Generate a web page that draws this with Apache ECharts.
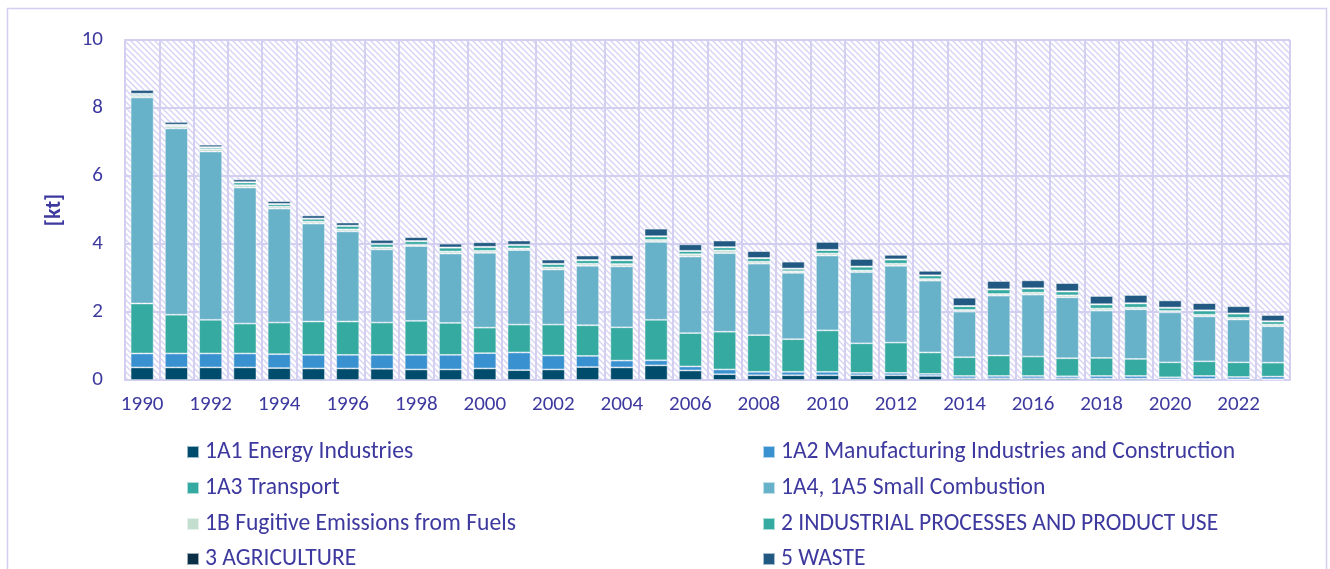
<!DOCTYPE html>
<html><head><meta charset="utf-8">
<script src="https://cdn.jsdelivr.net/npm/echarts@6/dist/echarts.min.js"></script>
<style>html,body{margin:0;padding:0;background:#fff}#c{width:1330px;height:569px}</style>
</head><body><div id="c"></div>
<script>
const years = ['1990','1991','1992','1993','1994','1995','1996','1997','1998','1999','2000','2001','2002','2003','2004','2005','2006','2007','2008','2009','2010','2011','2012','2013','2014','2015','2016','2017','2018','2019','2020','2021','2022','2023'];
const energy      = [0.37,0.37,0.37,0.37,0.35,0.34,0.34,0.33,0.31,0.31,0.34,0.29,0.31,0.38,0.37,0.43,0.28,0.17,0.14,0.14,0.14,0.14,0.14,0.12,0.05,0.05,0.05,0.05,0.04,0.04,0.02,0.03,0.02,0.02];
const manuf       = [0.41,0.41,0.41,0.41,0.41,0.40,0.40,0.41,0.43,0.43,0.45,0.52,0.41,0.33,0.20,0.15,0.12,0.14,0.10,0.10,0.10,0.07,0.07,0.06,0.07,0.07,0.07,0.06,0.08,0.08,0.06,0.09,0.07,0.08];
const transport   = [1.47,1.14,0.99,0.88,0.93,0.98,0.98,0.95,1.00,0.94,0.75,0.82,0.91,0.90,0.98,1.19,0.98,1.11,1.08,0.96,1.22,0.87,0.89,0.63,0.55,0.60,0.57,0.53,0.53,0.50,0.44,0.43,0.43,0.41];
const smallComb   = [6.06,5.48,4.95,4.00,3.35,2.88,2.65,2.15,2.20,2.04,2.20,2.19,1.62,1.75,1.79,2.29,2.25,2.31,2.10,1.95,2.20,2.09,2.26,2.11,1.34,1.76,1.82,1.79,1.39,1.46,1.47,1.32,1.26,1.07];
const fugitive    = [0.05,0.07,0.07,0.07,0.06,0.06,0.06,0.06,0.04,0.06,0.06,0.05,0.06,0.06,0.07,0.06,0.07,0.08,0.06,0.05,0.06,0.05,0.06,0.05,0.05,0.05,0.06,0.06,0.06,0.05,0.04,0.05,0.05,0.05];
const ippu        = [0.05,0.03,0.05,0.08,0.07,0.08,0.10,0.10,0.10,0.11,0.11,0.10,0.10,0.10,0.11,0.10,0.09,0.09,0.10,0.07,0.10,0.11,0.12,0.10,0.11,0.13,0.12,0.11,0.12,0.12,0.09,0.12,0.12,0.09];
const agriculture = [0.01,0.01,0.01,0.01,0.01,0.01,0.01,0.01,0.01,0.01,0.01,0.01,0.01,0.01,0.01,0.01,0.01,0.01,0.01,0.01,0.01,0.01,0.01,0.01,0.01,0.01,0.01,0.01,0.01,0.01,0.01,0.01,0.01,0.01];
const waste       = [0.11,0.08,0.07,0.08,0.08,0.09,0.09,0.11,0.11,0.11,0.13,0.12,0.12,0.13,0.14,0.22,0.19,0.19,0.20,0.20,0.23,0.22,0.13,0.13,0.24,0.24,0.23,0.24,0.24,0.24,0.21,0.21,0.21,0.18];
const yTicks = [0,2,4,6,8,10];

const names = ['1A1 Energy Industries','1A2 Manufacturing Industries and Construction','1A3 Transport','1A4, 1A5 Small Combustion','1B Fugitive Emissions from Fuels','2 INDUSTRIAL PROCESSES AND PRODUCT USE','3 AGRICULTURE','5 WASTE'];
const colors = ['#004c6d','#3a91cf','#35aaa0','#67b1c9','#c3ddcf','#35aaa0','#0b2f47','#215982'];
const values = [energy,manuf,transport,smallComb,fugitive,ippu,agriculture,waste];

// hatch pattern
const pc = document.createElement('canvas');
pc.width = 6; pc.height = 6;
const g = pc.getContext('2d');
g.fillStyle = '#ffffff'; g.fillRect(0,0,6,6);
g.strokeStyle = '#d8d4f4'; g.lineWidth = 1.5;
g.beginPath(); g.moveTo(-1,-1); g.lineTo(7,7); g.moveTo(-1,5); g.lineTo(1,7); g.moveTo(5,-1); g.lineTo(7,1); g.stroke();

const txt = '#3d399f';
const font = 'Carlito, Lato, sans-serif';
const rowsY = [449,485,521,556];
const legends = names.map((n,i)=>({
  data:[n], left: (i%2===0)?181:757, top: rowsY[Math.floor(i/2)]-14,
  itemWidth:12,itemHeight:12,icon:'rect',itemGap:0,
  textStyle:{color:txt,fontSize:23.6,fontFamily:font,padding:[0,0,0,1]}
}));

const chart = echarts.init(document.getElementById('c'));
chart.setOption({
  animation:false,
  backgroundColor:'#fff',
  graphic:[{type:'rect',shape:{x:7.5,y:8.5,width:1319,height:600},style:{fill:'none',stroke:'#d3cff0',lineWidth:1.5},z:-1}],
  grid:{left:125,right:40,top:40,bottom:189,show:true,borderWidth:0,backgroundColor:{image:pc,repeat:'repeat'}},
  legend:legends,
  xAxis:{type:'category',data:years,
    axisLine:{lineStyle:{color:'#d3cff0',width:2}},axisTick:{show:false},
    axisLabel:{interval:1,color:txt,fontSize:21,fontFamily:font,margin:14},
    splitLine:{show:true,interval:0,lineStyle:{color:'#d3cff0',width:2}}},
  yAxis:{type:'value',min:yTicks[0],max:yTicks[yTicks.length-1],interval:2,
    name:'[kt]',nameLocation:'middle',nameGap:60,nameRotate:90,
    nameTextStyle:{color:txt,fontSize:22,fontWeight:'bold',fontFamily:font},
    axisLine:{show:true,lineStyle:{color:'#d3cff0',width:2}},
    axisLabel:{color:txt,fontSize:21,fontFamily:font,margin:22},
    splitLine:{lineStyle:{color:'#d3cff0',width:2}}},
  series:names.map((n,i)=>({name:n,type:'bar',stack:'t',barWidth:23,data:values[i],
    itemStyle:{color:colors[i],borderColor:'rgba(255,255,255,0.6)',borderWidth:0.8}}))
});
</script></body></html>
